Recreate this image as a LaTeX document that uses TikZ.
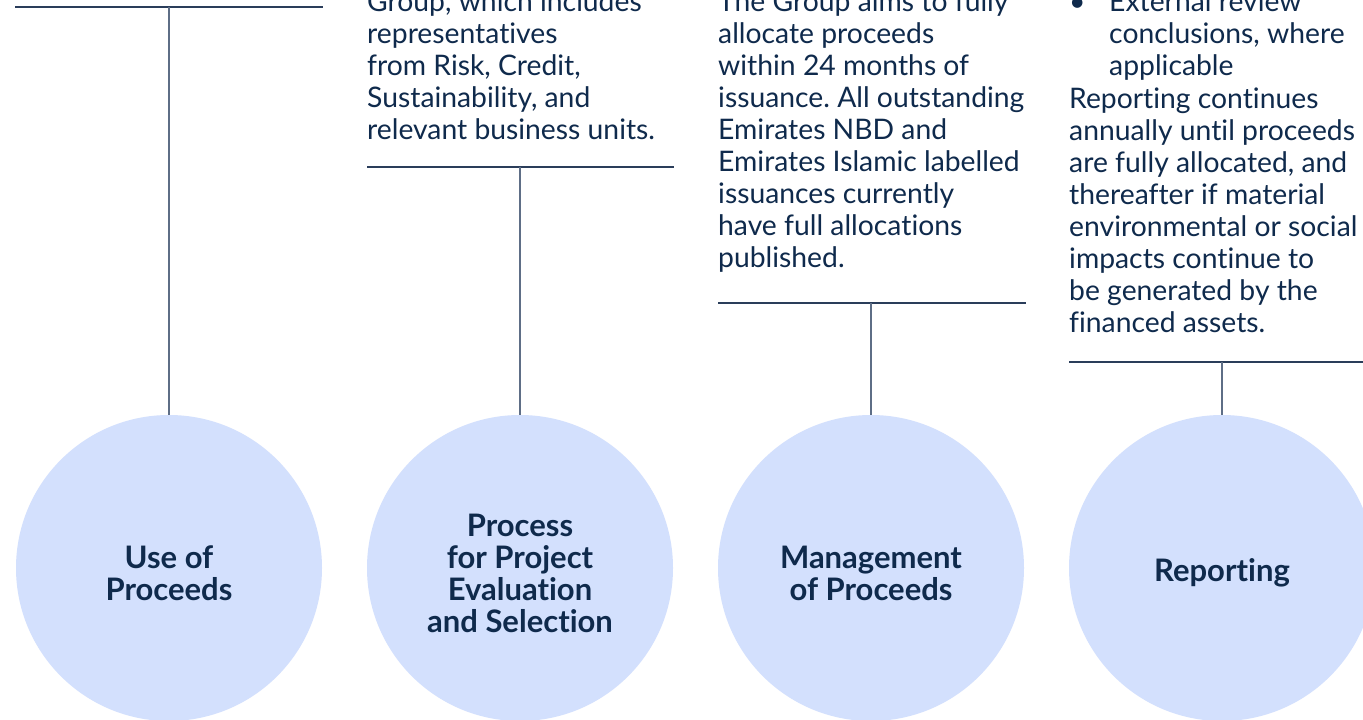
\documentclass[tikz,border=0pt]{standalone}
\usepackage{fontspec}
\setmainfont{Lato}[Ligatures={NoCommon,NoRare}]
\frenchspacing
\definecolor{navy}{HTML}{0F2A4C}
\definecolor{hline}{HTML}{2A3D5A}
\definecolor{vline}{HTML}{5E6E86}
\definecolor{cfill}{HTML}{D3E0FD}
\tikzset{
  circ/.style={circle, fill=cfill, draw=none, minimum size=306pt, inner sep=0pt},
  lbl/.style={inner sep=0pt, text=navy, align=center,
    font=\fontsize{31}{32}\selectfont\bfseries},
  body/.style={anchor=base west, inner sep=0pt, text=navy,
    font=\fontsize{28.3}{32}\selectfont},
  hrule/.style={draw=hline, line width=1.3pt},
  vrule/.style={draw=vline, line width=1.3pt},
}
\begin{document}
\begin{tikzpicture}[x=1pt,y=-1pt]
\clip (0,0) rectangle (1363,720);
\fill[white] (0,0) rectangle (1363,720);

% circles
\node[circ] (c1) at (169,568) {};
\node[circ] (c2) at (520,568) {};
\node[circ] (c3) at (871,568) {};
\node[circ] (c4) at (1222,568) {};
\node[lbl] (c1t) at ([yshift=-5pt]c1.center) {Use of\\Proceeds};
\node[lbl] (c2t) at ([yshift=-5pt]c2.center) {Process\\for Project\\Evaluation\\and Selection};
\node[lbl] (c3t) at ([yshift=-5pt]c3.center) {Management\\of Proceeds};
\node[lbl] (c4t) at ([yshift=-5pt]c4.center) {Reporting};

% texts
\node[body] (x2) at (367,12) {\parbox[t]{340pt}{\raggedright
Group, which includes\\representatives\\from Risk, Credit,\\Sustainability, and\\relevant business units.}};
\node[body] (x3) at (718,12) {\parbox[t]{340pt}{\raggedright
The Group aims to fully\\allocate proceeds\\within 24 months of\\issuance. All outstanding\\Emirates NBD and\\Emirates Islamic labelled\\issuances currently\\have full allocations\\published.}};
\node[body] (b4) at (1069,12) {\textbullet};
\node[body] (x4) at (1109,12) {\parbox[t]{340pt}{\raggedright
External review\\conclusions, where\\applicable}};
\node[body] (y4) at (1069,108) {\parbox[t]{340pt}{\raggedright
Reporting continues\\annually until proceeds\\are fully allocated, and\\thereafter if material\\environmental or social\\impacts continue to\\be generated by the\\financed assets.}};

% rules
\coordinate (l1a) at (15,7);   \coordinate (l1b) at (323,7);  \coordinate (t1) at (169,7);
\coordinate (l2a) at (367,167); \coordinate (l2b) at (674,167); \coordinate (t2) at (520,167);
\coordinate (l3a) at (718,303); \coordinate (l3b) at (1026,303); \coordinate (t3) at (871,303);
\coordinate (l4a) at (1069,362); \coordinate (l4b) at (1370,362); \coordinate (t4) at (1222,362);
\draw[hrule] (l1a) -- (l1b);
\draw[hrule] (l2a) -- (l2b);
\draw[hrule] (l3a) -- (l3b);
\draw[hrule] (l4a) -- (l4b);
\draw[vrule] (t1) -- (c1.north);
\draw[vrule] (t2) -- (c2.north);
\draw[vrule] (t3) -- (c3.north);
\draw[vrule] (t4) -- (c4.north);
\end{tikzpicture}
\end{document}
